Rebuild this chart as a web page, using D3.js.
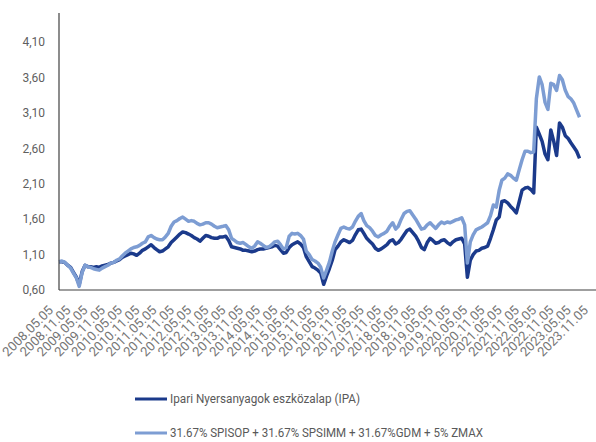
<!DOCTYPE html>
<html>
<head>
<meta charset="utf-8">
<script src="https://cdn.jsdelivr.net/npm/d3@7"></script>
<style>
  body { margin: 0; background: #fff; }
  svg { display: block; font-family: Roboto, "Noto Sans", sans-serif; }
</style>
</head>
<body>
<div id="chart"></div>
<script>
// monthly points, first one 2008-05-05
const startMonth = "2008-05-05";

// Ipari Nyersanyagok eszközalap (IPA)
const ipa = [
  1.00, 1.00, 0.99, 0.95, 0.92, 0.85, 0.78, 0.68, 0.86, 0.95,
  0.93, 0.93, 0.92, 0.93, 0.92, 0.94, 0.95, 0.96, 0.98, 0.99,
  1.01, 1.03, 1.06, 1.08, 1.10, 1.12, 1.11, 1.09, 1.12, 1.16,
  1.18, 1.21, 1.24, 1.20, 1.17, 1.14, 1.15, 1.18, 1.21, 1.27,
  1.31, 1.35, 1.39, 1.42, 1.41, 1.39, 1.37, 1.34, 1.32, 1.29,
  1.33, 1.37, 1.36, 1.34, 1.33, 1.33, 1.35, 1.35, 1.36, 1.30,
  1.21, 1.20, 1.19, 1.18, 1.16, 1.16, 1.15, 1.14, 1.15, 1.17,
  1.18, 1.18, 1.19, 1.20, 1.21, 1.23, 1.22, 1.17, 1.12, 1.13,
  1.20, 1.24, 1.26, 1.28, 1.25, 1.20, 1.07, 1.00, 0.93, 0.91,
  0.88, 0.84, 0.68, 0.80, 0.90, 1.02, 1.17, 1.22, 1.28, 1.31,
  1.29, 1.27, 1.30, 1.38, 1.45, 1.46, 1.40, 1.33, 1.29, 1.25,
  1.19, 1.16, 1.18, 1.21, 1.24, 1.29, 1.31, 1.25, 1.27, 1.32,
  1.38, 1.44, 1.46, 1.41, 1.36, 1.29, 1.20, 1.17, 1.27, 1.33,
  1.30, 1.26, 1.27, 1.30, 1.31, 1.27, 1.24, 1.28, 1.31, 1.32,
  1.33, 1.25, 0.78, 1.02, 1.10, 1.15, 1.16, 1.19, 1.20, 1.22,
  1.33, 1.45, 1.59, 1.63, 1.85, 1.86, 1.83, 1.78, 1.74, 1.69,
  1.85, 2.01, 2.04, 2.05, 2.02, 1.97, 2.90, 2.80, 2.70, 2.52,
  2.44, 2.86, 2.70, 2.50, 2.96, 2.90, 2.78, 2.74, 2.68, 2.62,
  2.56, 2.46
];

// 31.67% SPISOP + 31.67% SPSIMM + 31.67%GDM + 5% ZMAX
const benchmark = [
  1.00, 1.01, 0.99, 0.95, 0.91, 0.84, 0.77, 0.65, 0.85, 0.95,
  0.93, 0.92, 0.90, 0.89, 0.88, 0.91, 0.93, 0.95, 0.98, 0.99,
  1.02, 1.04, 1.08, 1.12, 1.15, 1.18, 1.20, 1.21, 1.23, 1.26,
  1.28, 1.35, 1.37, 1.34, 1.32, 1.31, 1.31, 1.35, 1.40, 1.50,
  1.56, 1.58, 1.61, 1.63, 1.60, 1.57, 1.58, 1.57, 1.54, 1.52,
  1.53, 1.55, 1.55, 1.53, 1.50, 1.48, 1.49, 1.50, 1.51, 1.45,
  1.33, 1.30, 1.27, 1.26, 1.27, 1.24, 1.21, 1.19, 1.22, 1.28,
  1.26, 1.23, 1.20, 1.21, 1.24, 1.28, 1.29, 1.24, 1.18, 1.20,
  1.36, 1.40, 1.39, 1.40, 1.37, 1.32, 1.15, 1.10, 1.03, 1.01,
  0.98, 0.92, 0.77, 0.88, 0.99, 1.15, 1.28, 1.38, 1.47, 1.49,
  1.47, 1.46, 1.49, 1.57, 1.64, 1.68, 1.58, 1.51, 1.48, 1.43,
  1.37, 1.35, 1.38, 1.40, 1.43, 1.50, 1.55, 1.46, 1.50, 1.60,
  1.68, 1.71, 1.72, 1.66, 1.60, 1.53, 1.46, 1.47, 1.52, 1.55,
  1.51, 1.47, 1.52, 1.56, 1.54, 1.56, 1.55, 1.57, 1.59, 1.60,
  1.62, 1.52, 0.98, 1.28, 1.38, 1.45, 1.47, 1.49, 1.52, 1.55,
  1.65, 1.80, 1.77, 2.01, 2.15, 2.18, 2.24, 2.22, 2.18, 2.15,
  2.30, 2.44, 2.56, 2.56, 2.54, 2.55, 3.30, 3.61, 3.50, 3.25,
  3.15, 3.52, 3.50, 3.42, 3.63, 3.57, 3.42, 3.33, 3.30, 3.24,
  3.14, 3.04
];

const yTicks = [0.6, 1.1, 1.6, 2.1, 2.6, 3.1, 3.6, 4.1];

const seriesNames = [
  "Ipari Nyersanyagok eszközalap (IPA)",
  "31.67% SPISOP + 31.67% SPSIMM + 31.67%GDM + 5% ZMAX"
];
const colors = ["#1b3a8b", "#7d9dd3"];

const width = 596, height = 442;
const margin = { left: 59, right: 1, top: 13, bottom: 152 };

const parse = d3.timeParse("%Y-%m-%d");
const t0 = parse(startMonth);
const dates = ipa.map((_, i) => d3.timeMonth.offset(t0, i));
const allTicks = d3.range(0, 32).map(i => d3.timeMonth.offset(t0, i * 6));

const svg = d3.select("#chart").append("svg")
  .attr("width", width)
  .attr("height", height);

const x = d3.scaleTime()
  .domain([t0, parse("2023-11-05")])
  .range([margin.left, width - 2]);

const y = d3.scaleLinear()
  .domain([0.6, 0.6 + (height - margin.bottom - margin.top) / 70.8])
  .range([height - margin.bottom, margin.top]);

// y tick labels
svg.append("g")
  .selectAll("text")
  .data(yTicks)
  .join("text")
  .attr("x", 45)
  .attr("y", d => y(d))
  .attr("dy", "0.35em")
  .attr("text-anchor", "end")
  .attr("fill", "#5f5f5f")
  .style("font-size", "12px")
  .text(d => d3.format(".2f")(d).replace(".", ","));

// x tick labels, rotated
const fmt = d3.timeFormat("%Y.%m.05");
svg.append("g")
  .selectAll("text")
  .data(allTicks)
  .join("text")
  .attr("transform", d => `translate(${x(d) - 5},${height - margin.bottom + 21}) rotate(-45)`)
  .attr("text-anchor", "end")
  .attr("fill", "#767676")
  .style("font-size", "13px")
  .text(d => fmt(d));

// lines
const line = d3.line()
  .x((d, i) => x(dates[i]))
  .y(d => y(d));

[ipa, benchmark].forEach((s, k) => {
  svg.append("path")
    .datum(s)
    .attr("d", line)
    .attr("fill", "none")
    .attr("stroke", colors[k])
    .attr("stroke-width", 3.5)
    .attr("stroke-linejoin", "round");
});

// axes lines
svg.append("line")
  .attr("x1", margin.left).attr("x2", margin.left)
  .attr("y1", margin.top).attr("y2", height - margin.bottom)
  .attr("stroke", "#404040").attr("stroke-width", 1.2);
svg.append("line")
  .attr("x1", margin.left).attr("x2", width)
  .attr("y1", height - margin.bottom).attr("y2", height - margin.bottom)
  .attr("stroke", "#404040").attr("stroke-width", 1.2);

// legend
const legendY = [399, 433];
const legendW = [190, 313];
seriesNames.forEach((name, k) => {
  svg.append("line")
    .attr("x1", 135).attr("x2", 167)
    .attr("y1", legendY[k]).attr("y2", legendY[k])
    .attr("stroke", colors[k]).attr("stroke-width", 3);
  svg.append("text")
    .attr("x", 170)
    .attr("y", legendY[k])
    .attr("dy", "0.35em")
    .attr("fill", "#595959")
    .style("font-size", "12px")
    .attr("textLength", legendW[k])
    .attr("lengthAdjust", "spacingAndGlyphs")
    .text(name);
});
</script>
</body>
</html>
